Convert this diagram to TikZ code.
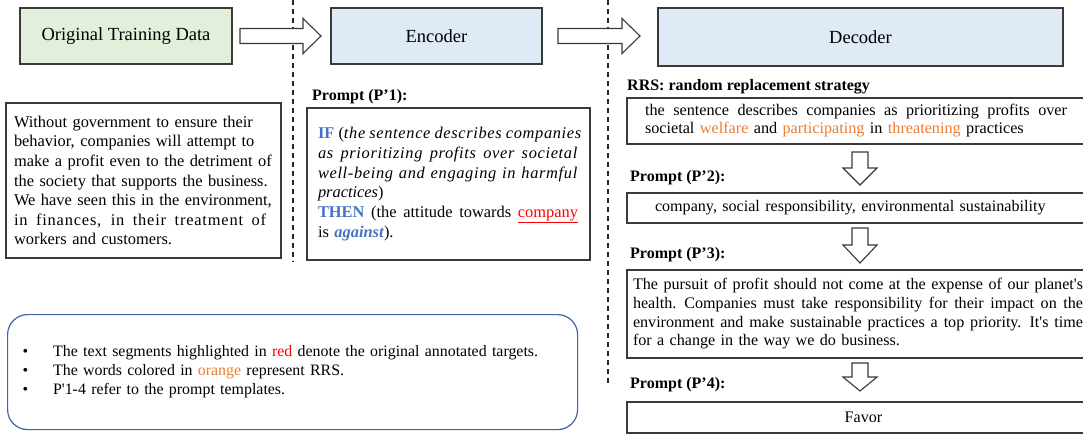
\documentclass[tikz,border=0pt]{standalone}
\usepackage{fontspec}
\setmainfont{Liberation Serif}[Ligatures=TeXOff]
\usetikzlibrary{calc}
\definecolor{gfill}{HTML}{E2EFDA}
\definecolor{bfill}{HTML}{DEEAF6}
\definecolor{edge}{HTML}{3A3A3A}
\definecolor{kwblue}{HTML}{4472C4}
\definecolor{orng}{HTML}{ED7D31}
\definecolor{legblue}{HTML}{3F65A8}
\newcommand\spreadline[2]{\leavevmode\hbox to #1{\spaceskip=0.25em plus 1fil\relax #2}}
\newcommand\lsit[1]{\textit{\addfontfeature{LetterSpace=4}#1}}
\begin{document}
\begin{tikzpicture}[x=1pt,y=-1pt,
  box/.style={draw=edge, line width=1.1pt, inner sep=0pt, outer sep=0pt},
  head/.style={box, font=\fontsize{18.5}{22}\selectfont},
  txt/.style={font=\fontsize{16.4}{19.6}\selectfont},
  lbl/.style={font=\fontsize{16}{19}\selectfont\bfseries, anchor=west, inner sep=0pt},
  blockarrow/.style={draw=edge, line width=1.1pt, fill=white, line join=miter},
  divider/.style={draw=black!85, line width=1.1pt, dash pattern=on 5pt off 4pt},
  legend/.style={draw=legblue, line width=1.2pt, rounded corners=20pt}]
\useasboundingbox (0,0) rectangle (1083,436);

% header boxes
\node[head, fill=gfill, anchor=north west, minimum width=212pt, minimum height=56pt] (orig) at (20,8) {Original Training Data};
\node[head, fill=bfill, anchor=north west, minimum width=211pt, minimum height=56pt] (enc) at (331,8) {Encoder};
\node[head, fill=bfill, anchor=north west, minimum width=405pt, minimum height=58pt] (dec) at (658,8) {Decoder};

% dividers
\draw[divider] (293,0) -- (293,262);
\draw[divider] (608,0) -- (608,385);

% right block arrows
\draw[blockarrow] ($(orig.east)+(8,-7.5)$) -- ++(63,0) -- ++(0,-10) -- ++(18,17.5) -- ++(-18,17.5) -- ++(0,-10) -- ++(-63,0) -- cycle;
\draw[blockarrow] ($(enc.east)+(16,-7.5)$) -- ++(64,0) -- ++(0,-10) -- ++(18,17.5) -- ++(-18,17.5) -- ++(0,-10) -- ++(-64,0) -- cycle;

% source text
\node[box, txt, anchor=north west, minimum width=275pt, minimum height=155pt, text width=259pt, align=left] (src) at (6,103)
{Without government to ensure their\\
behavior, companies will attempt to\\
make a profit even to the detriment of\\
the society that supports the business.\\
We have seen this in the environment,\\
\spreadline{252pt}{\addfontfeature{LetterSpace=5}in finances, in their treatment of}\\
workers and customers.};

% prompt 1
\node[lbl] (p1l) at (312,97) {Prompt (P’1):};
\node[box, txt, anchor=north west, minimum width=283pt, minimum height=152pt, text width=261pt, align=left, font=\fontsize{16.4}{19.8}\selectfont] (p1) at (307,108)
{\spreadline{260pt}{\textcolor{kwblue}{\textbf{IF}} (\lsit{the sentence describes companies}}\\
\spreadline{260pt}{\lsit{as prioritizing profits over societal}}\\
\spreadline{260pt}{\lsit{well-being and engaging in harmful}}\\
\textit{practices})\\
\spreadline{260pt}{\textcolor{kwblue}{\textbf{THEN}} (the attitude towards \textcolor{red}{\underline{company}}}\\
is \textcolor{kwblue}{\textbf{\textit{against}}}).};

% decoder column
\coordinate (ax) at (860,0);
\node[lbl] (rrsl) at (627,87) {RRS: random replacement strategy};
\node[box, txt, anchor=north west, minimum height=46pt, text width=423pt, inner xsep=18pt, align=left, font=\fontsize{16.2}{18}\selectfont] (rrs) at (627,98)
{\spreadline{422pt}{the sentence describes companies as prioritizing profits over}\\
societal \textcolor{orng}{welfare} and \textcolor{orng}{participating} in \textcolor{orng}{threatening} practices};

\draw[blockarrow] ($(ax |- rrs.south)+(-8,8)$) -- ++(16,0) -- ++(0,16) -- ++(9,0) -- ++(-17,17) -- ++(-17,-17) -- ++(9,0) -- cycle;

\node[lbl] (p2l) at (630,178) {Prompt (P’2):};
\node[box, txt, anchor=north west, minimum height=30pt, text width=410pt, inner xsep=28pt, align=left, font=\fontsize{16.1}{19}\selectfont] (p2) at (627,193)
{company, social responsibility, environmental sustainability};

\draw[blockarrow] ($(ax |- p2.south)+(-8,5)$) -- ++(16,0) -- ++(0,17) -- ++(9,0) -- ++(-17,18) -- ++(-17,-18) -- ++(9,0) -- cycle;

\node[lbl] (p3l) at (630,255) {Prompt (P’3):};
\node[box, txt, anchor=north west, minimum height=88pt, text width=450pt, inner xsep=6pt, align=left, font=\fontsize{16.1}{18.7}\selectfont] (p3) at (627,270)
{\spreadline{450pt}{The pursuit of profit should not come at the expense of our planet's}\\
\spreadline{450pt}{health. Companies must take responsibility for their impact on the}\\
\spreadline{450pt}{environment and make sustainable practices a top priority. It's time}\\
for a change in the way we do business.};

\draw[blockarrow] ($(ax |- p3.south)+(-8,5)$) -- ++(16,0) -- ++(0,14) -- ++(9,0) -- ++(-17,14) -- ++(-17,-14) -- ++(9,0) -- cycle;

\node[lbl] (p4l) at (630,385) {Prompt (P’4):};
\node[box, txt, anchor=north west, minimum height=31pt, minimum width=473pt, align=center, font=\fontsize{16.1}{19}\selectfont] (p4) at (627,402) {Favor};

% legend
\node[legend, anchor=north west, minimum width=570pt, minimum height=115pt, inner sep=0pt, text width=540pt, align=left, font=\fontsize{15.9}{19}\selectfont] (leg) at (7,314)
{\makebox[30.5pt][l]{•}The text segments highlighted in \textcolor{red}{red} denote the original annotated targets.\\
\makebox[30.5pt][l]{•}The words colored in \textcolor{orng}{orange} represent RRS.\\
\makebox[30.5pt][l]{•}P'1-4 refer to the prompt templates.};
\end{tikzpicture}
\end{document}
